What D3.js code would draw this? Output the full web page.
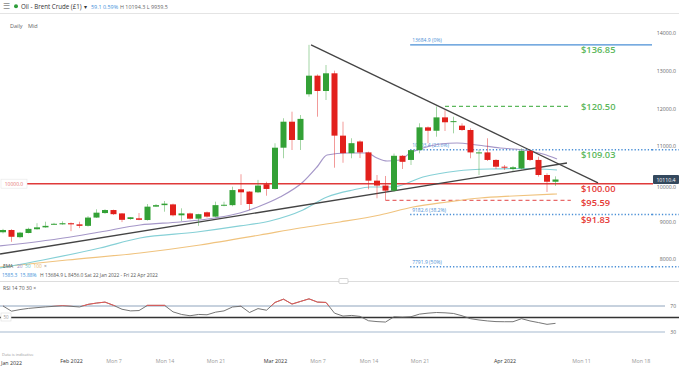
<!DOCTYPE html>
<html><head><meta charset="utf-8">
<script src="https://cdn.jsdelivr.net/npm/d3@7"></script>
<style>
body{margin:0;background:#fff;}
svg{display:block;font-family:"Open Sans",sans-serif;}
</style></head><body>
<svg id="c" width="679" height="366"></svg>
<script>
// ---- data ----
const opens  = [8710,8770,8580,8690,8790,8840,8925,8920,8950,8920,8880,9100,9220,9300,9210,9062,9080,9035,9390,9430,9450,9160,9210,9070,9240,9125,9430,9430,9850,9790,9770,9985,9860,10955,11645,11160,12373,12867,12460,12930,11275,10810,11120,10830,10080,9950,9815,10740,10630,10890,11495,11405,11760,11645,11540,11425,10810,10830,10630,10450,10390,10405,10870,10630,10230,10051.3];
const highs  = [8800,8790,8720,8830,8950,8990,8960,9000,8970,8990,9140,9320,9320,9310,9220,9110,9220,9460,9460,9540,9470,9346,9230,9200,9260,9522,9520,9920,10250,9800,10100,10050,11072,11736,11911,11823,13684.9,12900,13150,13000,11645,11205,11150,10850,10230,10204,10800,10760,10900,11603,11520,12050,11950,11778,11603,11470,10900,11205,10650,10496,10470,10938,10900,10716,10276,10194.3];
const lows   = [8680,8456,8550,8680,8780,8830,8910,8910,8740,8820,8860,9090,9200,9170,8980,9040,9030,9020,9380,9256,9130,9010,9050,8880,9100,9110,9400,9400,9434,9300,9750,9680,9850,10674,10894,10894,12309,11778,12221,10424,10555,10674,10680,9851,9612,9559,9790,10390,10496,10806,11072,11247,11398,11337,11400,10674,10230,10602,10390,10363,10340,10380,10600,10186,9780,9939.5];
const closes = [8770,8590,8700,8800,8840,8880,8935,8950,8920,8880,9100,9230,9300,9190,9040,9108,9040,9390,9430,9470,9160,9210,9070,9190,9125,9430,9440,9830,9770,9460,9950,9860,10955,11645,11160,11720,12867,12460,12930,11275,10810,11075,10830,10080,9950,9815,10740,10580,10890,11495,11405,11760,11630,11660,11425,10830,10830,10630,10450,10425,10435,10870,10630,10230,10051.3,10110.4];

const rsi = [70,62,64.5,66.3,67.5,68.6,69.5,70.3,69.5,68.5,72.5,74.5,76,71,65,62.5,63,71,71,71,61,57,55,57,56.5,60.5,62.5,68.5,69.6,60,66,63.5,75.5,80.5,73,77,81,76,75.5,59,54.5,55.5,54,47.3,46,45.3,53.4,52.8,53.5,57.5,59,60,59.5,58.5,55,50.5,48.5,47,46,45.8,45.8,50.5,47,44.5,41.8,43.3];

const ema20Idx = [-0.35,5.53,11.41,16.12,20.82,24.94,27.88,30.24,32.59,35.29,36.94,38.12,40.47,42.82,44.0,45.18,46.71,47.88,49.41,51.41,53.41,55.76,58.47,61.18,63.53,65.18];
const ema20Val = [8346,8505,8717,8903,8983,9089,9222,9407,9646,10045,10443,10761,10814,10814,10682,10602,10629,10814,10947,11053,11080,11027,10947,10894,10788,10655];
const ema50Idx = [-0.35,4.71,11.41,16.12,22.82,27.88,31.41,35.29,38.12,41.18,43.18,45.88,49.41,53.41,57.29,61.18,65.18];
const ema50Val = [7762,7974,8293,8558,8717,8877,9009,9301,9646,9832,9912,9912,10177,10337,10390,10403,10363];
const ema100Idx = [-0.35,7.53,16.12,23.18,30.24,34.94,39.65,44.35,48.24,52.24,56.12,60.0,65.18];
const ema100Val = [7788,7974,8160,8372,8638,8823,8983,9169,9381,9514,9620,9673,9726];

const trendUp   = [[-0.35,8133],[66.35,10549]];
const trendDown = [[36.24,13684.9],[70,10020]];

const fibValues = [13684.9,10903.4,9182.6,7791.9];
const fibLabels = ["13684.9 (0%)","10903.4 (23.6%)","9182.6 (38.2%)","7791.9 (50%)"];

const levelValues = [13684.9,12050,10903,10000,9559,9183];
const levelLabels = ["$136.85","$120.50","$109.03","$100.00","$95.59","$91.83"];
const levelTone   = ["up","up","up","down","down","down"];

const priceTicks = [8000,9000,10000,11000,12000,13000,14000];
const dateTickIdx = [13,19,25,32,37,43,49,59,68,75,8];
const dateTickLabels = ["Mon 7","Mon 14","Mon 21","Mar 2022","Mon 7","Mon 14","Mon 21","Apr 2022","Mon 11","Mon 18","Feb 2022"];
const rsiLevels = [70,30];

// ---- layout ----
const GREEN="#33a136", RED="#e2201c", BLUE="#4a8fd6", LGREEN="#5cb85c", LRED="#e53935";
const svg = d3.select("#c");
const x = d3.scaleLinear().domain([0,75]).range([3,640.5]);
const y = d3.scaleLinear().domain([8000,14000]).range([259,33]);
const yr = d3.scaleLinear().domain([30,70]).range([332,306]);

const defs = svg.append("defs");
defs.append("clipPath").attr("id","main").append("rect").attr("x",0).attr("y",15).attr("width",653).attr("height",265);
defs.append("clipPath").attr("id","rsiTop").append("rect").attr("x",0).attr("y",285).attr("width",679).attr("height",yr(70)-285);

// header
const hdr = svg.append("g").attr("font-size",6.2).attr("fill","#333");
hdr.append("text").attr("x",3).attr("y",8.5).attr("fill","#888").attr("font-size",8).text("☰");
hdr.append("circle").attr("cx",16).attr("cy",6.2).attr("r",2).attr("fill","#2e9e3a");
hdr.append("text").attr("x",21).attr("y",8.5).text("Oil - Brent Crude (£1)");
hdr.append("text").attr("x",84).attr("y",8.5).attr("font-size",5.5).text("▾");
hdr.append("text").attr("x",91).attr("y",8.5).attr("fill","#3d8fd9").attr("font-size",5.4).text("59.1");
hdr.append("text").attr("x",103).attr("y",8.5).attr("fill","#3d8fd9").attr("font-size",5.4).text("0.59%");
hdr.append("text").attr("x",120).attr("y",8.5).attr("fill","#666").attr("font-size",5.4).text("H 10194.3  L 9939.5");
svg.append("line").attr("x1",0).attr("x2",679).attr("y1",13.5).attr("y2",13.5).attr("stroke","#e4e4e4");
svg.append("text").attr("x",10).attr("y",28).attr("font-size",5.5).attr("fill","#666").text("Daily");
svg.append("text").attr("x",28).attr("y",28).attr("font-size",5.5).attr("fill","#666").text("Mid");

const main = svg.append("g").attr("clip-path","url(#main)");

// fib levels
fibValues.forEach((v,i)=>{
  main.append("line").attr("x1",x(47.9)).attr("x2",i===0?652:679).attr("y1",y(v)).attr("y2",y(v))
    .attr("stroke",BLUE).attr("stroke-width",i===0?1.3:1.5).attr("stroke-dasharray",i===0?null:"1.3,2");
  main.append("text").attr("x",x(47.9)+2).attr("y",y(v)-2.5).attr("font-size",5).attr("fill",BLUE).text(fibLabels[i]);
  if(i>0) svg.append("line").attr("x1",652).attr("x2",679).attr("y1",y(v)).attr("y2",y(v))
    .attr("stroke",BLUE).attr("stroke-width",1.5).attr("stroke-dasharray","1.3,2");
});

// dashed levels
main.append("line").attr("x1",x(52)).attr("x2",x(66.8)).attr("y1",y(levelValues[1])).attr("y2",y(levelValues[1]))
  .attr("stroke",LGREEN).attr("stroke-width",1.2).attr("stroke-dasharray","4,3");
main.append("line").attr("x1",x(45)).attr("x2",x(66.8)).attr("y1",y(levelValues[4])).attr("y2",y(levelValues[4]))
  .attr("stroke","#e86a6a").attr("stroke-width",1.2).attr("stroke-dasharray","4,3");

// EMAs
const emaLine = d3.line().x(d=>x(d[0])).y(d=>y(d[1])).curve(d3.curveMonotoneX);
[[ema100Idx,ema100Val,"#f0c37e"],[ema50Idx,ema50Val,"#86d0d6"],[ema20Idx,ema20Val,"#a597c8"]].forEach(([ix,vs,c])=>{
  main.append("path").attr("d",emaLine(ix.map((d,i)=>[d,vs[i]]))).attr("fill","none").attr("stroke",c).attr("stroke-width",1.2);
});

// red 100 line
main.append("line").attr("x1",27).attr("x2",653).attr("y1",y(levelValues[3])).attr("y2",y(levelValues[3]))
  .attr("stroke","#e03a3a").attr("stroke-width",1.5);

// trendlines
const tl = d3.line().x(d=>x(d[0])).y(d=>y(d[1]));
[trendUp,trendDown].forEach(t=>main.append("path").attr("d",tl(t)).attr("stroke","#444").attr("stroke-width",1.3).attr("fill","none"));

// candles
const cg = main.append("g");
closes.forEach((c,i)=>{
  const o=opens[i], up=c>=o, col=up?GREEN:RED;
  cg.append("line").attr("x1",x(i)).attr("x2",x(i)).attr("y1",y(highs[i])).attr("y2",y(lows[i]))
    .attr("stroke",col).attr("stroke-opacity",0.45).attr("stroke-width",1);
  const top=y(Math.max(o,c)), h=Math.max(1,Math.abs(y(o)-y(c)));
  cg.append("rect").attr("x",x(i)-3).attr("y",top).attr("width",6).attr("height",h).attr("fill",col);
});

// level labels
const lblOff=[5,0,5.5,5.5,2,5.5];
levelValues.forEach((v,i)=>{
  svg.append("text").attr("x",581).attr("y",y(v)+lblOff[i]+3.3).attr("font-size",9.3).attr("font-weight",600)
    .attr("fill",levelTone[i]==="up"?LGREEN:LRED).text(levelLabels[i]);
});

// left 10000 box
svg.append("rect").attr("x",1).attr("y",y(10000)-4.5).attr("width",26).attr("height",9).attr("fill","#fff").attr("stroke","#e6e6e6").attr("stroke-width",0.6);
svg.append("text").attr("x",14).attr("y",y(10000)+2).attr("text-anchor","middle").attr("font-size",5).attr("fill","#e57373").text("10000.0");

// right axis
const ra = svg.append("g").attr("transform","translate(677,0)")
  .call(d3.axisLeft(y).tickValues(priceTicks).tickSize(0).tickPadding(1).tickFormat(d=>d.toFixed(1)));
ra.select(".domain").remove();
ra.selectAll("text").attr("font-size",5.2).attr("fill","#666").attr("font-family","Open Sans");
ra.selectAll(".tick").filter(d=>d===10000).select("text").attr("dy","0.9em");

// price tag
svg.append("rect").attr("x",653).attr("y",y(10110.4)-4.5).attr("width",26).attr("height",9).attr("rx",1).attr("fill","#34495e");
svg.append("text").attr("x",666).attr("y",y(10110.4)+2).attr("text-anchor","middle").attr("font-size",5.2).attr("fill","#fff").text("10110.4");

// EMA legend
const lg = svg.append("g").attr("font-size",4.9);
lg.append("text").attr("x",3).attr("y",268).attr("fill","#555").text("EMA");
lg.append("text").attr("x",17).attr("y",268).attr("fill","#9a8cc4").text("20");
lg.append("text").attr("x",25).attr("y",268).attr("fill","#5cc3cb").text("50");
lg.append("text").attr("x",33.5).attr("y",268).attr("fill","#e8b35f").text("100");
lg.append("text").attr("x",44).attr("y",268).attr("fill","#888").text("×");
lg.append("text").attr("x",2).attr("y",277).attr("fill","#3d8fd9").text("1585.3");
lg.append("text").attr("x",20).attr("y",277).attr("fill","#3d8fd9").text("15.88%");
lg.append("text").attr("x",40).attr("y",277).attr("fill","#555").text("H 13684.9   L 8456.0   Sat 22 Jan 2022 - Fri 22 Apr 2022");

// separator + handle
svg.append("line").attr("x1",0).attr("x2",679).attr("y1",281.5).attr("y2",281.5).attr("stroke","#ddd");
svg.append("rect").attr("x",339).attr("y",278.5).attr("width",9).attr("height",5).attr("rx",1).attr("fill","#fff").attr("stroke","#bbb").attr("stroke-width",0.6);

// RSI panel
svg.append("text").attr("x",3).attr("y",290).attr("font-size",5.1).attr("fill","#555").text("RSI  14  70  30  ×");
svg.append("line").attr("x1",0).attr("x2",665).attr("y1",yr(70)).attr("y2",yr(70)).attr("stroke","#8fa4bd").attr("stroke-width",1);
svg.append("line").attr("x1",0).attr("x2",665).attr("y1",yr(30)).attr("y2",yr(30)).attr("stroke","#c3d1df").attr("stroke-width",1.4);
svg.append("line").attr("x1",0).attr("x2",679).attr("y1",yr(50)-1.5).attr("y2",yr(50)-1.5).attr("stroke","#333").attr("stroke-width",1.6);
svg.append("rect").attr("x",1).attr("y",yr(50)-6).attr("width",10).attr("height",8).attr("fill","#fff").attr("stroke","#ddd").attr("stroke-width",0.6);
svg.append("text").attr("x",6).attr("y",yr(50)-0.3).attr("text-anchor","middle").attr("font-size",4.5).attr("fill","#999").text("50");
rsiLevels.forEach(v=>svg.append("text").attr("x",676).attr("y",yr(v)+1.8).attr("text-anchor","end").attr("font-size",5).attr("fill","#666").text(v));
const rl = d3.line().x((d,i)=>x(i)).y(d=>yr(d));
svg.append("path").attr("d",rl(rsi)).attr("fill","none").attr("stroke","#666").attr("stroke-width",0.9);
svg.append("path").attr("d",rl(rsi)).attr("fill","none").attr("stroke","#ef5350").attr("stroke-width",0.9).attr("clip-path","url(#rsiTop)");

// bottom
svg.append("text").attr("x",2).attr("y",356).attr("font-size",4).attr("fill","#999").text("Data is indicative");
const ba = svg.append("g").attr("transform","translate(0,358)")
  .call(d3.axisBottom(x).tickValues(dateTickIdx).tickSize(0).tickPadding(1).tickFormat((d,i)=>dateTickLabels[i]));
ba.select(".domain").remove();
ba.selectAll("text").attr("font-size",5.3).attr("font-family","Open Sans")
  .attr("fill",(d,i)=>/20/.test(dateTickLabels[i])?"#333":"#999");
svg.append("text").attr("x",1).attr("y",364.5).attr("font-size",5.3).attr("fill","#333").text("Jan 2022");
</script>
</body></html>
